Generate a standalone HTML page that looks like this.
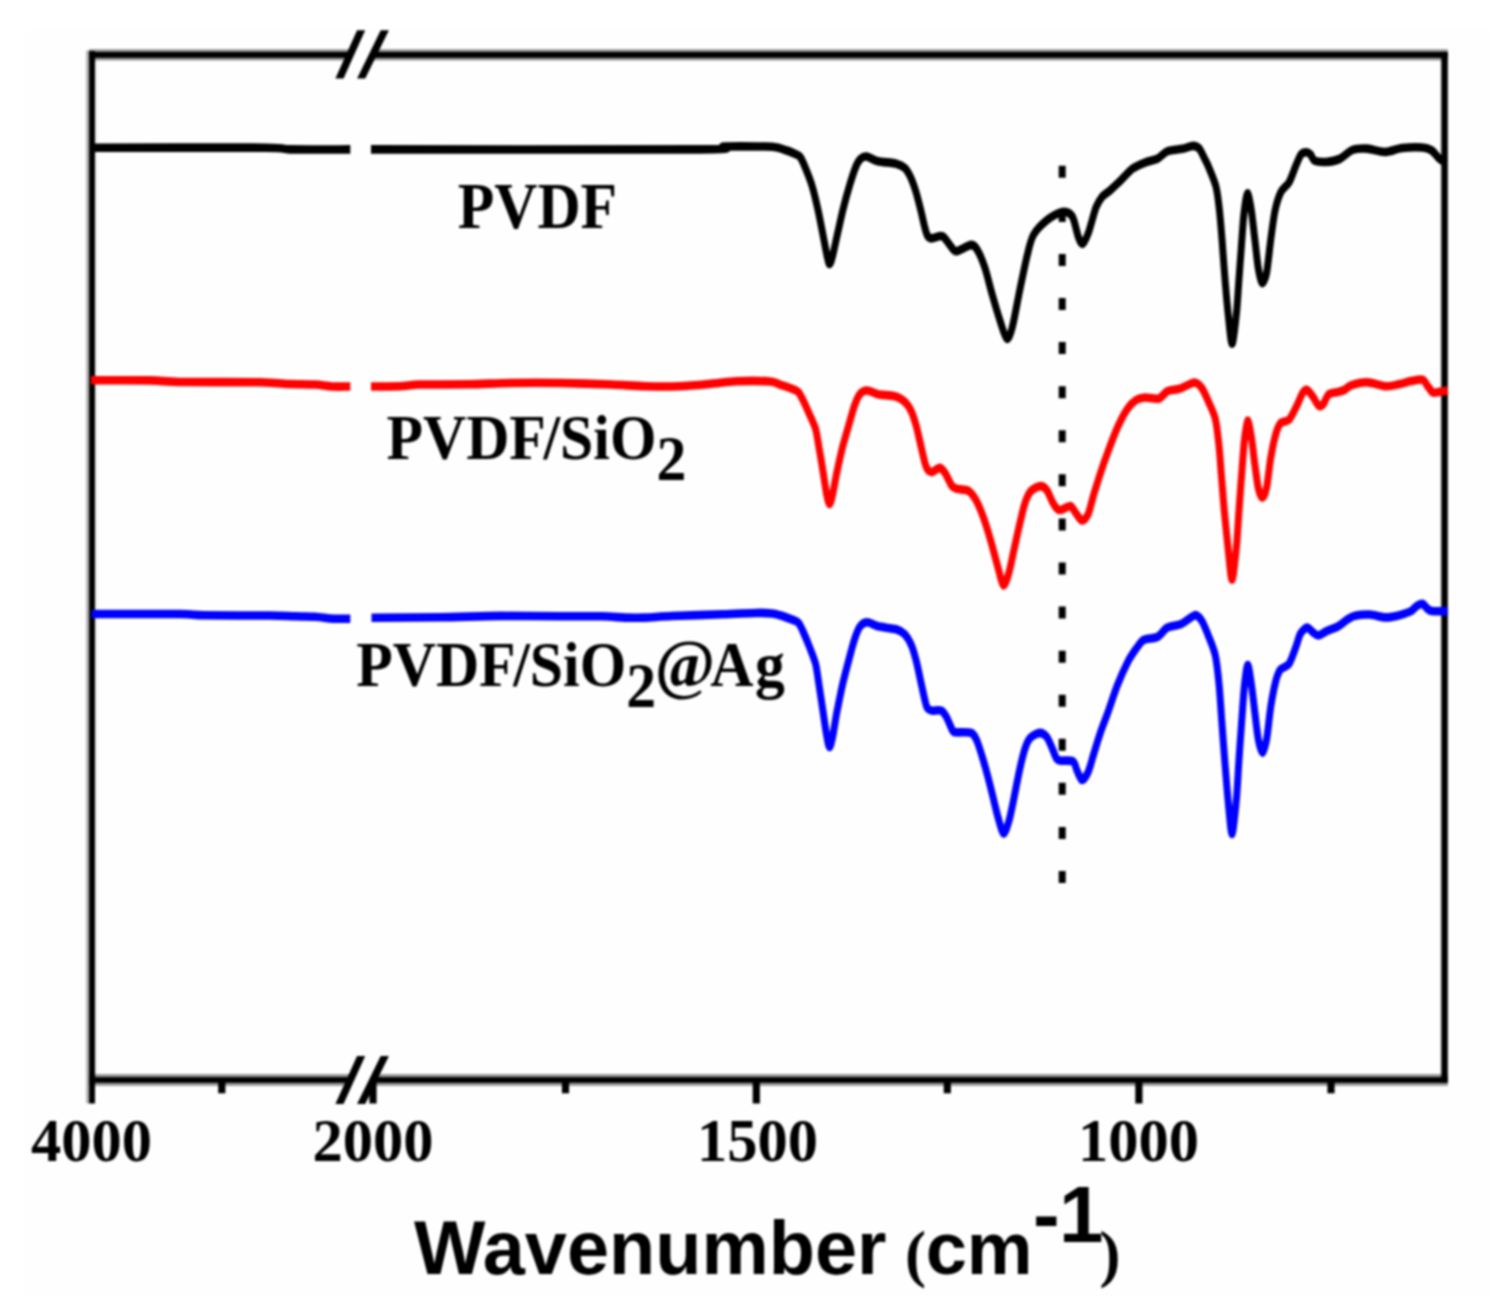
<!DOCTYPE html>
<html lang="en">
<head>
<meta charset="utf-8">
<title>FTIR spectra</title>
<style>
html,body{margin:0;padding:0;background:#fff;}
body{width:1489px;height:1309px;overflow:hidden;}
svg{display:block;filter:blur(0.9px);}
</style>
</head>
<body>
<svg width="1489" height="1309" viewBox="0 0 1489 1309">
<rect x="0" y="0" width="1489" height="1309" fill="#ffffff"/>
<rect x="25" y="29.8" width="1464" height="1267.2" fill="#fefefe"/>
<rect x="86.1" y="50.5" width="3" height="1053" fill="#000" fill-opacity="0.3"/>
<rect x="89.1" y="51" width="5.9" height="1052.5" fill="#000"/>
<rect x="95" y="57.8" width="3" height="1020" fill="#000" fill-opacity="0.05"/>
<rect x="1440.6" y="51.9" width="0.8" height="1030.8" fill="#000" fill-opacity="0.35"/>
<rect x="1441.4" y="51.9" width="6.4" height="1030.8" fill="#000"/>
<rect x="89.1" y="49.2" width="260.4" height="11.3" fill="#000" fill-opacity="0.4"/>
<rect x="89.1" y="51.9" width="260.4" height="5.9" fill="#000"/>
<rect x="372" y="49.2" width="1075.8" height="11.3" fill="#000" fill-opacity="0.4"/>
<rect x="372" y="51.9" width="1075.8" height="5.9" fill="#000"/>
<rect x="89.1" y="1074" width="260.4" height="11.9" fill="#000" fill-opacity="0.4"/>
<rect x="89.1" y="1077.1" width="260.4" height="5.7" fill="#000"/>
<rect x="372" y="1074" width="1075.8" height="11.9" fill="#000" fill-opacity="0.4"/>
<rect x="372" y="1077.1" width="1075.8" height="5.7" fill="#000"/>
<g fill="#000">
<polygon points="357.1,30.2 365.2,30.2 343.5,78.6 335.4,78.6"/>
<polygon points="380.7,30.2 388.9,30.2 365.2,78.6 357.1,78.6"/>
<polygon points="357.1,1056 365.2,1056 343.5,1103.9 335.4,1103.9"/>
<polygon points="380.7,1056 388.9,1056 365.2,1103.9 357.1,1103.9"/>
</g>
<g stroke="#000" stroke-width="7.2" fill="none">
<line x1="373" y1="1080" x2="373" y2="1103.5"/>
<line x1="756.3" y1="1080" x2="756.3" y2="1103.5"/>
<line x1="1138.9" y1="1080" x2="1138.9" y2="1103.5"/>
<line x1="221.8" y1="1080" x2="221.8" y2="1093.3"/>
<line x1="565.5" y1="1080" x2="565.5" y2="1093.3"/>
<line x1="947.3" y1="1080" x2="947.3" y2="1093.3"/>
<line x1="1331" y1="1080" x2="1331" y2="1093.3"/>
</g>
<g fill="none" stroke="#000000" stroke-linejoin="round" stroke-linecap="butt" transform="scale(1,1.2286)">
<path d="M95.0,120.2C118.8,120.2 237.7,120.0 265.0,120.2C292.3,120.4 278.1,121.4 290.0,121.6C301.9,121.8 341.9,121.6 350.3,121.6" stroke-width="7.0"/>
<path d="M371.0,121.6C417.1,121.6 650.6,121.9 700.0,121.6C749.4,121.3 714.9,119.6 724.0,119.3C733.1,119.0 757.6,119.2 765.0,119.3C772.4,119.4 774.1,119.6 777.0,120.1C779.9,120.5 783.9,121.7 786.0,122.3C788.1,122.8 790.3,123.5 792.2,124.2C794.1,124.9 797.9,125.8 799.6,127.2C801.3,128.7 802.7,131.4 804.4,134.7C806.1,138.0 809.9,145.6 811.8,150.6C813.7,155.6 816.4,165.0 817.9,170.5C819.4,176.1 821.5,185.1 822.8,190.4C824.1,195.7 826.1,204.9 827.1,208.3C828.1,211.7 828.8,214.9 829.6,214.9C830.4,214.9 831.5,211.7 832.6,208.3C833.7,204.9 836.0,195.7 837.5,190.4C839.0,185.1 841.3,176.1 843.0,170.5C844.7,165.0 847.9,155.5 849.7,150.6C851.5,145.7 854.3,138.7 855.8,135.7C857.3,132.7 859.2,130.3 860.7,129.2C862.2,128.0 864.4,127.1 866.8,127.4C869.2,127.7 873.7,130.4 877.8,131.2C881.9,132.0 892.3,132.4 896.1,133.2C899.9,133.9 902.6,135.1 904.7,136.7C906.8,138.3 909.3,142.0 910.8,144.6C912.3,147.3 914.3,151.9 915.7,155.5C917.1,159.2 919.4,166.6 920.6,170.5C921.8,174.4 923.4,180.5 924.3,183.5C925.2,186.4 926.3,190.1 927.3,191.6C928.3,193.1 929.5,193.9 931.6,194.0C933.7,194.1 939.8,191.5 942.3,192.3C944.8,193.0 947.9,197.6 949.8,199.3C951.7,201.0 953.1,204.5 956.1,204.5C959.1,204.5 968.1,199.5 971.1,199.3C974.1,199.2 975.4,200.8 977.3,203.4C979.2,206.0 982.7,212.5 984.8,217.7C986.9,222.8 990.2,234.1 992.3,240.0C994.4,246.0 997.8,255.4 999.8,260.4C1001.8,265.4 1005.0,274.8 1006.8,275.6C1008.5,276.4 1010.5,272.0 1012.3,266.4C1014.1,260.9 1017.7,244.2 1019.8,236.0C1021.9,227.7 1025.4,213.7 1027.3,207.5C1029.2,201.2 1030.7,195.2 1033.5,191.2C1036.3,187.2 1043.3,181.6 1047.3,179.0C1051.3,176.4 1058.8,172.9 1062.3,172.5C1065.8,172.1 1069.9,173.1 1072.2,176.0C1074.5,178.9 1077.0,190.1 1078.5,193.2C1080.0,196.4 1081.3,198.9 1082.7,198.4C1084.1,197.8 1086.6,193.3 1088.5,189.2C1090.4,185.0 1094.1,172.8 1096.0,168.8C1097.9,164.8 1100.0,162.3 1102.0,160.3C1104.0,158.4 1107.5,156.8 1110.0,155.0C1112.5,153.2 1116.8,150.0 1120.0,147.5C1123.2,145.0 1129.0,139.4 1132.5,137.3C1136.0,135.2 1141.5,133.4 1145.0,132.3C1148.5,131.1 1154.3,130.5 1157.4,129.2C1160.5,127.9 1163.9,124.2 1167.4,123.1C1170.9,121.9 1178.8,121.7 1182.4,121.1C1186.0,120.5 1190.6,118.7 1193.0,118.7C1195.4,118.7 1197.9,119.7 1199.5,121.1C1201.1,122.6 1203.2,126.9 1204.5,129.0C1205.8,131.1 1207.0,132.7 1208.6,135.9C1210.2,139.2 1214.6,147.3 1216.1,152.3C1217.6,157.3 1218.7,165.6 1219.5,171.5C1220.3,177.4 1221.3,187.6 1222.0,194.7C1222.7,201.8 1223.7,213.9 1224.5,222.1C1225.3,230.4 1226.9,245.5 1227.9,253.5C1229.0,261.6 1230.8,279.3 1232.0,279.7C1233.2,280.1 1235.3,263.4 1236.3,256.3C1237.3,249.2 1238.1,236.6 1238.8,229.0C1239.5,221.3 1240.6,209.2 1241.3,201.5C1242.0,193.9 1243.0,180.4 1243.9,174.2C1244.8,168.0 1246.4,157.9 1247.4,157.5C1248.5,157.1 1250.4,166.3 1251.4,171.5C1252.4,176.7 1253.8,188.2 1254.8,194.7C1255.8,201.2 1257.2,213.0 1258.2,218.0C1259.2,223.0 1260.8,229.8 1262.0,230.3C1263.2,230.9 1265.4,227.1 1266.6,222.1C1267.8,217.1 1269.6,201.8 1270.8,194.7C1272.0,187.6 1273.6,176.9 1275.0,171.5C1276.4,166.1 1278.8,159.7 1280.8,156.4C1282.8,153.2 1287.1,151.3 1289.2,148.2C1291.3,145.2 1294.3,137.7 1296.0,134.5C1297.7,131.4 1299.5,127.2 1301.0,125.7C1302.5,124.2 1305.2,123.9 1306.5,123.9C1307.8,123.9 1309.3,124.8 1310.5,125.8C1311.7,126.7 1312.6,130.0 1314.8,130.9C1317.0,131.7 1322.7,132.0 1326.2,131.8C1329.7,131.6 1336.1,130.7 1339.8,129.3C1343.5,128.0 1348.5,123.3 1352.3,122.1C1356.1,120.9 1362.8,120.8 1367.3,121.0C1371.8,121.3 1379.9,123.8 1384.8,123.7C1389.7,123.6 1397.0,121.0 1402.3,120.5C1407.6,120.0 1418.3,119.8 1422.4,120.1C1426.5,120.3 1429.4,121.3 1431.6,122.4C1433.8,123.6 1436.8,127.1 1438.4,128.4C1440.0,129.6 1441.9,130.5 1443.0,131.1C1444.1,131.7 1445.8,132.3 1446.2,132.5" stroke-width="7.0"/>
</g>
<g fill="none" stroke="#ff0000" stroke-linejoin="round" stroke-linecap="butt" transform="scale(1,1.2286)">
<path d="M91.0,309.5C99.3,309.6 137.5,309.4 150.0,309.6C162.5,309.8 164.6,310.7 180.0,310.9C195.4,311.1 244.6,310.9 260.0,311.1C275.4,311.3 282.3,312.3 290.0,312.6C297.7,312.8 309.1,312.7 315.0,313.0C320.9,313.3 327.1,314.4 332.0,314.6C336.9,314.8 347.7,314.6 350.3,314.6" stroke-width="7.0"/>
<path d="M371.0,314.6C375.1,314.6 393.1,314.6 400.0,314.4C406.9,314.2 410.2,313.3 420.0,313.0C429.8,312.8 457.3,313.0 470.0,312.8C482.7,312.6 498.3,311.8 511.0,311.7C523.7,311.5 546.9,311.5 561.0,311.7C575.1,311.9 600.2,312.7 612.0,313.0C623.8,313.4 635.6,314.2 645.0,314.4C654.4,314.6 669.5,314.7 679.0,314.4C688.5,314.1 704.6,312.8 712.6,312.2C720.6,311.7 728.0,310.5 736.0,310.3C744.0,310.0 763.8,310.1 770.0,310.5C776.2,310.9 776.9,312.2 780.0,313.0C783.1,313.9 789.6,315.6 792.2,316.5C794.8,317.3 796.8,317.7 798.3,319.0C799.8,320.3 801.7,323.5 803.2,326.0C804.7,328.5 807.6,333.7 809.3,336.9C811.0,340.1 814.1,345.0 815.5,348.9C816.9,352.8 818.1,360.0 819.1,364.7C820.1,369.5 821.8,377.5 822.8,382.6C823.8,387.8 825.6,397.7 826.5,401.6C827.4,405.5 828.6,410.1 829.5,410.2C830.4,410.4 831.6,406.2 832.6,402.6C833.6,399.0 835.4,390.0 836.8,384.7C838.2,379.4 840.7,370.0 842.3,364.7C843.9,359.4 846.8,351.7 848.5,346.8C850.2,341.9 853.0,333.6 854.6,329.9C856.2,326.2 858.3,322.2 860.1,320.5C861.9,318.8 864.9,317.7 867.4,317.8C869.9,317.8 873.9,320.3 877.8,320.9C881.6,321.6 891.1,321.6 894.9,322.5C898.7,323.3 902.4,325.2 904.7,327.0C907.0,328.7 909.8,332.2 911.4,334.9C913.0,337.7 915.0,343.1 916.3,346.8C917.6,350.6 919.4,357.6 920.6,361.8C921.8,366.0 923.9,373.8 924.9,376.7C925.9,379.6 926.9,381.5 927.9,382.6C928.9,383.6 930.6,384.4 932.2,384.2C933.8,383.9 937.8,380.7 939.6,380.8C941.4,380.9 943.4,382.9 945.1,385.0C946.8,387.1 950.3,393.8 952.0,395.6C953.7,397.4 955.2,397.3 957.5,397.9C959.8,398.4 966.0,398.4 968.5,399.6C971.0,400.7 973.5,403.6 975.4,406.2C977.3,408.9 980.6,415.0 982.3,418.6C984.0,422.2 986.3,428.0 987.8,432.0C989.3,436.1 991.9,443.4 993.3,447.7C994.7,451.9 996.7,458.2 998.1,462.2C999.5,466.3 1002.1,475.9 1003.6,476.4C1005.1,476.9 1007.7,469.6 1009.1,465.6C1010.5,461.6 1012.5,453.0 1013.9,447.7C1015.3,442.4 1017.9,432.9 1019.4,427.6C1020.9,422.2 1023.4,413.5 1024.9,409.7C1026.4,405.8 1028.3,402.1 1030.4,400.1C1032.5,398.2 1037.7,395.8 1040.0,395.7C1042.3,395.5 1045.2,397.2 1046.9,399.0C1048.6,400.8 1050.9,406.3 1052.4,408.5C1053.9,410.7 1056.6,413.8 1057.9,414.6C1059.2,415.5 1060.3,415.2 1062.0,414.8C1063.7,414.4 1068.4,411.5 1070.3,411.9C1072.2,412.2 1074.2,415.8 1075.8,417.5C1077.4,419.1 1080.3,423.6 1082.0,423.7C1083.7,423.9 1086.5,421.5 1088.1,418.6C1089.7,415.7 1091.9,407.6 1093.6,402.9C1095.3,398.2 1098.6,389.8 1100.5,385.0C1102.4,380.2 1105.1,373.9 1107.5,368.7C1109.9,363.5 1114.7,352.9 1117.5,347.9C1120.3,342.8 1124.9,335.8 1127.5,332.7C1130.1,329.5 1133.8,326.9 1136.2,325.6C1138.7,324.3 1141.8,323.7 1145.0,323.5C1148.2,323.4 1155.6,325.2 1158.7,324.5C1161.8,323.8 1164.4,319.6 1167.4,318.4C1170.4,317.3 1176.2,317.3 1180.0,316.3C1183.8,315.3 1191.4,311.4 1194.5,311.3C1197.6,311.3 1199.8,313.6 1201.8,315.8C1203.8,318.0 1206.7,323.6 1208.6,327.1C1210.5,330.6 1213.8,335.8 1215.3,340.8C1216.8,345.8 1218.1,355.8 1219.0,362.7C1219.9,369.6 1220.9,382.4 1221.7,390.0C1222.5,397.7 1223.6,409.8 1224.5,417.5C1225.4,425.1 1226.9,437.2 1227.9,444.8C1229.0,452.4 1230.8,471.6 1232.0,471.8C1233.2,472.0 1235.3,453.8 1236.3,446.2C1237.3,438.6 1238.1,425.3 1238.8,417.5C1239.5,409.6 1240.5,398.1 1241.3,390.0C1242.1,382.0 1243.3,366.7 1244.2,360.0C1245.1,353.4 1246.6,343.1 1247.6,342.5C1248.6,341.9 1250.4,350.9 1251.4,355.9C1252.4,360.8 1253.8,372.0 1254.8,377.8C1255.8,383.5 1257.2,393.1 1258.2,396.9C1259.2,400.7 1261.1,405.0 1262.3,405.0C1263.5,405.0 1265.4,401.5 1266.6,396.9C1267.8,392.3 1269.5,378.4 1270.8,372.3C1272.1,366.2 1274.4,357.1 1275.8,353.2C1277.2,349.2 1278.9,345.9 1280.8,344.2C1282.7,342.6 1287.0,343.5 1289.2,341.5C1291.4,339.6 1294.9,333.2 1296.8,330.2C1298.7,327.2 1301.2,321.8 1302.6,320.0C1304.0,318.2 1305.7,317.0 1307.1,317.4C1308.5,317.7 1311.2,321.0 1312.8,322.7C1314.4,324.5 1317.1,329.1 1318.5,330.1C1319.9,331.0 1321.7,330.5 1323.1,329.2C1324.5,328.0 1326.7,322.3 1328.8,320.9C1330.9,319.4 1335.7,319.6 1337.9,319.1C1340.1,318.6 1342.9,318.0 1344.8,317.2C1346.7,316.4 1348.4,314.3 1351.6,313.5C1354.8,312.6 1362.8,311.0 1367.6,311.2C1372.4,311.3 1381.4,314.2 1385.9,314.4C1390.4,314.6 1396.1,313.2 1399.6,312.6C1403.1,312.0 1407.8,310.7 1411.0,310.2C1414.2,309.7 1420.2,308.5 1422.4,309.0C1424.6,309.4 1425.6,312.0 1427.0,313.5C1428.4,314.9 1431.1,318.5 1432.7,319.3C1434.3,320.1 1436.3,319.3 1438.4,319.1C1440.5,318.9 1446.5,318.0 1447.8,317.8" stroke-width="7.0"/>
</g>
<g fill="none" stroke="#0000ff" stroke-linejoin="round" stroke-linecap="butt" transform="scale(1,1.2286)">
<path d="M91.5,499.8C103.9,499.8 164.1,499.7 180.0,499.8C195.9,500.0 192.4,500.7 205.0,500.8C217.6,501.0 257.4,500.9 270.0,501.0C282.6,501.1 288.7,501.5 295.0,501.6C301.3,501.8 309.5,501.8 315.0,502.0C320.5,502.3 329.1,503.4 334.0,503.6C338.9,503.8 348.0,503.6 350.3,503.6" stroke-width="7.0"/>
<path d="M371.5,502.8C381.1,502.7 421.9,502.6 440.0,502.4C458.1,502.2 484.1,501.4 501.0,501.3C517.9,501.2 546.9,501.6 561.0,501.6C575.1,501.7 593.0,501.5 602.0,501.6C611.0,501.8 619.0,502.5 625.0,502.7C631.0,502.8 638.4,502.9 645.0,502.7C651.6,502.5 661.1,501.8 672.0,501.4C682.9,501.0 710.8,500.4 722.6,500.0C734.4,499.7 749.1,499.0 756.0,498.9C762.9,498.8 768.6,499.0 772.0,499.3C775.4,499.6 777.2,500.1 780.0,500.8C782.8,501.5 789.6,503.5 792.2,504.3C794.8,505.2 796.8,505.4 798.3,506.8C799.8,508.2 801.7,511.5 803.2,514.3C804.7,517.0 807.6,522.6 809.3,526.2C811.0,529.8 814.1,535.7 815.5,540.1C816.9,544.6 818.1,552.8 819.1,558.0C820.1,563.3 821.8,572.3 822.8,577.9C823.8,583.5 825.6,593.6 826.5,597.8C827.4,602.1 828.6,607.7 829.5,608.0C830.4,608.3 831.6,603.7 832.6,599.8C833.6,595.9 835.4,585.8 836.8,579.9C838.2,574.1 840.7,563.9 842.3,558.0C843.9,552.2 846.8,543.4 848.5,538.1C850.2,532.8 853.0,524.2 854.6,520.2C856.2,516.2 858.3,511.7 860.1,509.8C861.9,507.9 864.9,506.5 867.4,506.5C869.9,506.5 873.8,509.0 877.8,509.8C881.8,510.6 892.3,511.3 896.1,512.2C899.9,513.1 902.6,514.4 904.7,516.2C906.8,518.0 909.8,522.1 911.4,525.2C913.0,528.2 915.0,534.1 916.3,538.1C917.6,542.2 919.4,549.6 920.6,554.1C921.8,558.5 924.0,566.8 924.9,569.9C925.8,573.0 926.4,575.1 927.3,576.3C928.2,577.5 929.7,578.1 931.6,578.4C933.5,578.7 938.9,577.6 941.0,578.3C943.1,579.1 944.9,581.4 946.5,583.7C948.1,586.0 951.3,592.9 952.6,594.6C953.9,596.3 953.4,595.7 956.0,596.0C958.6,596.3 968.4,595.6 971.3,596.5C974.2,597.5 975.3,600.0 976.8,602.7C978.3,605.5 980.8,612.1 982.3,616.2C983.8,620.2 986.3,627.2 987.8,631.9C989.3,636.6 991.9,645.1 993.3,649.8C994.7,654.5 996.7,661.4 998.1,665.4C999.5,669.4 1002.1,678.1 1003.6,678.4C1005.1,678.7 1007.7,671.7 1009.1,667.7C1010.5,663.7 1012.5,655.4 1013.9,649.8C1015.3,644.1 1017.9,633.0 1019.4,627.4C1020.9,621.8 1023.4,613.2 1024.9,609.5C1026.4,605.7 1028.3,602.3 1030.4,600.5C1032.5,598.7 1037.7,596.6 1040.0,596.5C1042.3,596.5 1045.2,598.2 1046.9,600.0C1048.6,601.8 1051.1,607.1 1052.4,609.5C1053.7,611.9 1055.4,616.0 1056.5,617.3C1057.6,618.6 1058.3,618.8 1060.6,619.1C1062.9,619.4 1070.7,618.5 1073.0,619.7C1075.3,620.8 1075.8,625.3 1077.1,627.4C1078.4,629.5 1080.5,634.7 1082.0,634.9C1083.5,635.0 1086.5,631.4 1088.1,628.5C1089.7,625.5 1091.9,618.5 1093.6,614.0C1095.3,609.4 1098.6,600.7 1100.5,596.1C1102.4,591.4 1105.1,586.2 1107.5,580.8C1109.9,575.4 1114.7,563.3 1117.5,557.5C1120.3,551.7 1124.9,543.3 1127.5,539.2C1130.1,535.0 1133.9,530.6 1136.2,528.0C1138.5,525.5 1140.7,522.3 1143.7,520.9C1146.7,519.6 1154.1,519.9 1157.4,518.5C1160.7,517.1 1164.1,512.2 1167.4,510.8C1170.7,509.3 1177.3,509.3 1181.2,507.9C1185.1,506.5 1192.1,501.1 1195.0,500.7C1197.9,500.4 1200.1,503.1 1202.0,505.5C1203.9,507.9 1206.7,514.0 1208.6,517.9C1210.5,521.8 1213.8,527.8 1215.3,533.5C1216.8,539.1 1218.3,550.5 1219.2,558.3C1220.1,566.1 1221.2,580.7 1222.0,589.4C1222.8,598.1 1224.0,611.8 1224.9,620.5C1225.8,629.2 1227.1,643.4 1228.1,651.6C1229.1,659.7 1230.9,678.8 1232.0,678.8C1233.1,678.8 1235.3,659.7 1236.3,651.6C1237.3,643.4 1238.1,629.2 1238.8,620.5C1239.5,611.8 1240.7,598.1 1241.5,589.4C1242.3,580.7 1243.5,565.0 1244.4,558.3C1245.3,551.6 1246.8,541.3 1247.8,541.3C1248.8,541.3 1250.6,552.6 1251.6,558.3C1252.6,563.9 1254.2,575.6 1255.1,581.7C1256.0,587.7 1257.3,597.5 1258.3,601.8C1259.3,606.2 1261.3,612.8 1262.5,612.6C1263.7,612.4 1265.8,605.5 1266.9,600.3C1268.0,595.1 1269.5,581.7 1270.7,575.4C1271.9,569.1 1274.2,559.4 1275.5,555.2C1276.8,551.0 1278.4,547.2 1280.3,545.1C1282.2,543.0 1286.7,543.1 1288.9,540.5C1291.1,537.8 1294.4,529.7 1296.0,526.2C1297.6,522.7 1299.0,517.7 1300.6,515.6C1302.2,513.4 1305.4,511.0 1307.1,510.8C1308.8,510.7 1311.2,513.7 1312.8,514.6C1314.4,515.5 1316.6,517.5 1318.5,517.3C1320.4,517.2 1323.8,514.7 1326.5,513.7C1329.2,512.6 1335.0,511.2 1337.9,509.9C1340.8,508.6 1344.7,505.6 1347.1,504.4C1349.5,503.2 1351.9,501.7 1355.1,501.2C1358.3,500.6 1365.6,500.0 1369.9,500.2C1374.2,500.4 1381.7,502.5 1385.9,502.5C1390.1,502.6 1396.1,501.4 1399.6,500.7C1403.1,499.9 1408.6,498.4 1411.0,497.4C1413.4,496.4 1415.1,494.1 1416.7,493.3C1418.3,492.4 1421.0,491.2 1422.4,491.5C1423.8,491.7 1425.7,494.3 1427.0,495.1C1428.3,495.9 1428.7,497.0 1431.6,497.3C1434.5,497.6 1445.5,497.4 1447.8,497.4" stroke-width="7.0"/>
</g>
<line x1="1062.2" y1="165.8" x2="1062.2" y2="885" stroke="#000" stroke-width="7" stroke-dasharray="12 32.075"/>
<g font-family="'Liberation Serif', 'Times New Roman', serif" font-weight="bold" font-size="60.5" fill="#000" text-anchor="middle">
<text x="91.5" y="1161">4000</text>
<text x="373" y="1161">2000</text>
<text x="757.6" y="1161">1500</text>
<text x="1138.6" y="1161">1000</text>
</g>
<g font-family="'Liberation Serif', 'Times New Roman', serif" font-weight="bold" font-size="63" fill="#000">
<text transform="translate(457.7,228.4) scale(0.949,1.025)">PVDF</text>
<text transform="translate(386.5,459) scale(0.949,1)">PVDF<tspan dx="-2.5">/</tspan>SiO<tspan dy="20.6">2</tspan></text>
<text transform="translate(356.2,686) scale(0.949,1)">PVDF<tspan dx="-2.5">/</tspan>SiO<tspan dy="20.6">2</tspan><tspan dy="-20.6" dx="-1" font-size="68">@</tspan><tspan dx="-5">A</tspan><tspan dx="1.5">g</tspan></text>
</g>
<text font-family="'Liberation Sans', Arial, sans-serif" font-weight="bold" font-size="75.7" fill="#000"><tspan x="414.1" y="1274.3">Wavenumber </tspan><tspan x="905" y="1275" font-family="'Liberation Serif', 'Times New Roman', serif" font-size="63">(</tspan><tspan x="925.7" y="1274.3" font-size="74">cm</tspan><tspan x="1033" y="1241.5" font-size="80">-</tspan><tspan x="1059" y="1241.5" font-size="80">1</tspan><tspan x="1099.5" y="1275" font-family="'Liberation Serif', 'Times New Roman', serif" font-size="63">)</tspan></text>
</svg>
</body>
</html>
